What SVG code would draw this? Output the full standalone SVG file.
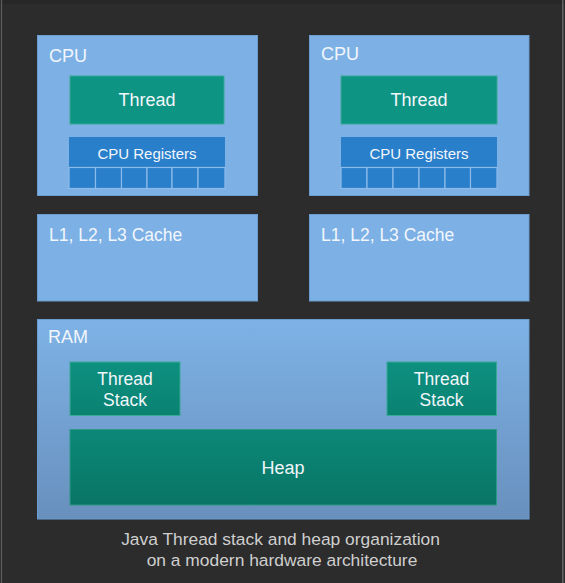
<svg xmlns="http://www.w3.org/2000/svg" width="565" height="583" viewBox="0 0 565 583">
<defs>
<linearGradient id="ramGrad" x1="0" y1="0" x2="0" y2="1">
<stop offset="0" stop-color="#7eb2e6"/>
<stop offset="1" stop-color="#6890bd"/>
</linearGradient>
<linearGradient id="heapGrad" x1="0" y1="0" x2="0" y2="1">
<stop offset="0" stop-color="#0c8878"/>
<stop offset="1" stop-color="#087566"/>
</linearGradient>
<linearGradient id="stackGrad" x1="0" y1="0" x2="0" y2="1">
<stop offset="0" stop-color="#0d9080"/>
<stop offset="1" stop-color="#0a8272"/>
</linearGradient>
</defs>
<style>
.box{fill:#7db1e5;stroke:#6b9dd0;stroke-width:1}
.thread{fill:#0e9483;stroke:#3aa894;stroke-width:1}
.reg{fill:#2a7fcb}
.cell{fill:#2a7fcb;stroke:#8cbbe9;stroke-width:1.2}
.lbl{font-family:"Liberation Sans",Arial,sans-serif;fill:#f2f6fb}
.cap{font-family:"Liberation Sans",Arial,sans-serif;fill:#cfcfcf;font-size:17.4px;text-anchor:middle}
.c{text-anchor:middle}
</style>
<rect x="0" y="0" width="565" height="583" fill="#2c2c2c"/>
<rect x="0" y="0" width="565" height="4" fill="#272727"/>
<line x1="1.5" y1="0" x2="1.5" y2="583" stroke="#5e5e5e" stroke-width="1.2"/>
<line x1="562.8" y1="0" x2="562.8" y2="583" stroke="#6a6a6a" stroke-width="1.4"/>

<g id="cpu1">
<rect class="box" x="37.5" y="35.5" width="220" height="160"/>
<text class="lbl" x="49" y="62" font-size="18">CPU</text>
<g id="thread1">
<rect class="thread" x="70" y="76" width="154" height="48"/>
<text class="lbl c" x="147" y="106" font-size="18">Thread</text>
</g>
<g id="registers1">
<rect class="reg" x="69" y="137" width="156" height="30"/>
<text class="lbl c" x="147" y="159" font-size="15">CPU Registers</text>
<rect class="cell" x="69" y="167.5" width="26.5" height="21"/>
<rect class="cell" x="95.5" y="167.5" width="26" height="21"/>
<rect class="cell" x="121.5" y="167.5" width="25.5" height="21"/>
<rect class="cell" x="147" y="167.5" width="25" height="21"/>
<rect class="cell" x="172" y="167.5" width="26" height="21"/>
<rect class="cell" x="198" y="167.5" width="27" height="21"/>
</g>
</g>

<g id="cpu2">
<rect class="box" x="309.5" y="35.5" width="219.5" height="160"/>
<text class="lbl" x="321" y="60" font-size="18">CPU</text>
<g id="thread2">
<rect class="thread" x="341" y="76" width="156" height="48"/>
<text class="lbl c" x="419" y="106" font-size="18">Thread</text>
</g>
<g id="registers2">
<rect class="reg" x="341" y="137" width="156" height="30"/>
<text class="lbl c" x="419" y="159" font-size="15">CPU Registers</text>
<rect class="cell" x="341" y="167.5" width="26" height="21"/>
<rect class="cell" x="367" y="167.5" width="26" height="21"/>
<rect class="cell" x="393" y="167.5" width="26" height="21"/>
<rect class="cell" x="419" y="167.5" width="26" height="21"/>
<rect class="cell" x="445" y="167.5" width="25.5" height="21"/>
<rect class="cell" x="470.5" y="167.5" width="26.5" height="21"/>
</g>
</g>

<g id="cache1">
<rect class="box" x="37.5" y="214.5" width="220" height="86.5"/>
<text class="lbl" x="49" y="241" font-size="17.5">L1, L2, L3 Cache</text>
</g>

<g id="cache2">
<rect class="box" x="309.5" y="214.5" width="219.5" height="86.5"/>
<text class="lbl" x="321" y="241" font-size="17.5">L1, L2, L3 Cache</text>
</g>

<g id="ram">
<rect x="37.5" y="319.5" width="491.5" height="199.5" fill="url(#ramGrad)" stroke="#6b9dd0" stroke-width="1"/>
<text class="lbl" x="48" y="343" font-size="18">RAM</text>
<g id="stack1">
<rect x="70" y="362" width="110" height="53.5" fill="url(#stackGrad)" stroke="#3aa894" stroke-width="1"/>
<text class="lbl c" x="125" y="385" font-size="17.5">Thread</text>
<text class="lbl c" x="125" y="406" font-size="17.5">Stack</text>
</g>
<g id="stack2">
<rect x="387" y="362" width="109.5" height="53.5" fill="url(#stackGrad)" stroke="#3aa894" stroke-width="1"/>
<text class="lbl c" x="441.5" y="385" font-size="17.5">Thread</text>
<text class="lbl c" x="441.5" y="406" font-size="17.5">Stack</text>
</g>
<g id="heap">
<rect x="70" y="429.5" width="426.5" height="75.5" fill="url(#heapGrad)" stroke="#2e9886" stroke-width="1"/>
<text class="lbl c" x="283" y="474" font-size="18">Heap</text>
</g>
</g>

<g id="connectors"></g>

<text class="cap" x="280.5" y="544.5">Java Thread stack and heap organization</text>
<text class="cap" x="282" y="566">on a modern hardware architecture</text>
</svg>
